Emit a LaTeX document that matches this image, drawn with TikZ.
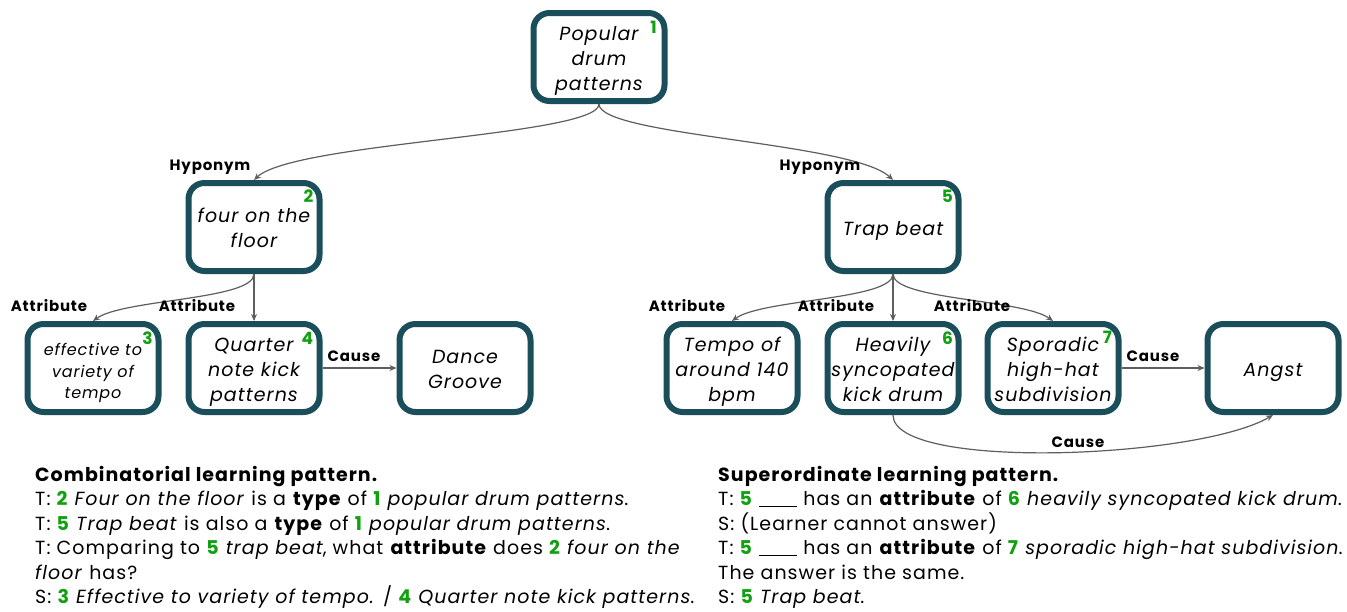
\documentclass[tikz,border=0pt]{standalone}
\usepackage{fontspec}
\setmainfont{Poppins}[LetterSpace=5.5]
\usetikzlibrary{arrows.meta}

\definecolor{boxteal}{HTML}{1A4E5B}
\definecolor{numgreen}{HTML}{10A010}
\definecolor{edgegray}{HTML}{5E5E5E}

\newcommand\cconceptfont{\fontsize{19}{25}\selectfont\itshape}
\newcommand\csmallconceptfont{\fontsize{16}{21.5}\selectfont\itshape}
\newcommand\cnumfont{\fontsize{17}{20}\selectfont\bfseries}
\newcommand\clabelfont{\fontsize{15}{18}\selectfont\bfseries}
\newcommand\cbodyfont{\fontsize{19}{24}\selectfont}
\newcommand\gn[1]{\textcolor{numgreen}{\textbf{#1}}}
\newcommand\blank{\rule[-1.5pt]{38pt}{1.2pt}}
% centred stack of lines, set a little below the box centre
\newcommand\lines[2][3pt]{\raisebox{-#1}[\height][\depth]{\begin{tabular}{c}#2\end{tabular}}}
\setlength\tabcolsep{0pt}

\tikzset{
  concept/.style={draw=boxteal, line width=6pt, rounded corners=16pt,
    minimum width=131pt, minimum height=88pt,
    font=\cconceptfont, inner sep=0pt, fill=white},
  num/.style={font=\cnumfont, text=numgreen, inner sep=0pt},
  rel/.style={draw=edgegray, line width=1.2pt,
    -{Stealth[length=7pt,width=6pt]}},
  rellabel/.style={font=\clabelfont, inner sep=0pt},
  textline/.style={anchor=base west, inner sep=0pt, font=\cbodyfont},
}

\begin{document}
\begin{tikzpicture}[x=1pt,y=-1pt]
\useasboundingbox[fill=white] (0,0) rectangle (1347,611);

% concept boxes
\node[concept] (popular)  at (599,57)  {\lines{Popular\\drum\\patterns}};
\node[concept] (four)     at (254,227) {\lines{four on the\\floor}};
\node[concept, font=\csmallconceptfont] (effective) at (93,368) {\lines[5pt]{effective to\\variety of\\tempo}};
\node[concept] (quarter)  at (254,368) {\lines{Quarter\\note kick\\patterns}};
\node[concept] (dance)    at (465,368) {\lines{Dance\\Groove}};
\node[concept] (trap)     at (893,227) {\lines{Trap beat}};
\node[concept] (tempo)    at (732,368) {\lines{Tempo of\\around 140\\bpm}};
\node[concept] (heavily)  at (893,368) {\lines{Heavily\\syncopated\\kick drum}};
\node[concept] (sporadic) at (1053,368) {\lines{Sporadic\\high-hat\\subdivision}};
\node[concept] (angst)    at (1273,368) {\lines{Angst}};

% index numbers
\node[num] (n1) at ([shift={(-14,17)}]popular.north east) {1};
\node[num] (n2) at ([shift={(-14,16)}]four.north east) {2};
\node[num] (n3) at ([shift={(-14,17)}]effective.north east) {3};
\node[num] (n4) at ([shift={(-15,17)}]quarter.north east) {4};
\node[num] (n5) at ([shift={(-14,16)}]trap.north east) {5};
\node[num] (n6) at ([shift={(-14,17)}]heavily.north east) {6};
\node[num] (n7) at ([shift={(-14,16)}]sporadic.north east) {7};

% relations
\draw[rel] (popular.south) .. controls +(0,32) and +(40,-38) .. (four.north);
\draw[rel] (popular.south) .. controls +(0,32) and +(-40,-38) .. (trap.north);
\draw[rel] (four.south) .. controls +(0,26) and +(30,-22) .. (effective.north);
\draw[rel] (four.south) -- (quarter.north);
\draw[rel] (quarter.east) -- (dance.west);
\draw[rel] (trap.south) .. controls +(0,26) and +(30,-22) .. (tempo.north);
\draw[rel] (trap.south) -- (heavily.north);
\draw[rel] (trap.south) .. controls +(0,26) and +(-30,-22) .. (sporadic.north);
\draw[rel] (sporadic.east) -- (angst.west);
\draw[rel] (heavily.south) .. controls +(0,56) and +(-75,44) .. (angst.south);

% relation labels
\node[rellabel] (lh1) at (210,167) {Hyponym};
\node[rellabel] (lh2) at (820,167) {Hyponym};
\node[rellabel] (la1) at (49,306)  {Attribute};
\node[rellabel] (la2) at (197,306) {Attribute};
\node[rellabel] (la3) at (687,306) {Attribute};
\node[rellabel] (la4) at (836,306) {Attribute};
\node[rellabel] (la5) at (972,306) {Attribute};
\node[rellabel] (lc1) at (354,356) {Cause};
\node[rellabel] (lc2) at (1153,356) {Cause};
\node[rellabel] (lc3) at (1078,442) {Cause};

% combinatorial learning pattern
\node[textline] (l1) at (35,481)   {\textbf{Combinatorial learning pattern.}};
\node[textline] (l2) at (35,505.5) {T: \gn{2} \textit{Four on the floor} is a \textbf{type} of \gn{1} \textit{popular drum patterns}.};
\node[textline] (l3) at (35,530)   {T: \gn{5} \textit{Trap beat} is also a \textbf{type} of \gn{1} \textit{popular drum patterns}.};
\node[textline] (l4) at (35,554.5) {T: Comparing to \gn{5} \textit{trap beat}, what \textbf{attribute} does \gn{2} \textit{four on the}};
\node[textline] (l5) at (35,579)   {\textit{floor} has?};
\node[textline] (l6) at (35,603.5) {S: \gn{3} \textit{Effective to variety of tempo.} / \gn{4} \textit{Quarter note kick patterns}.};

% superordinate learning pattern
\node[textline] (r1) at (718,481)   {\textbf{Superordinate learning pattern.}};
\node[textline] (r2) at (718,505.5) {T: \gn{5} \blank{} has an \textbf{attribute} of \gn{6} \textit{heavily syncopated kick drum}.};
\node[textline] (r3) at (718,530)   {S: (Learner cannot answer)};
\node[textline] (r4) at (718,554.5) {T: \gn{5} \blank{} has an \textbf{attribute} of \gn{7} \textit{sporadic high-hat subdivision}.};
\node[textline] (r5) at (718,579)   {The answer is the same.};
\node[textline] (r6) at (718,603.5) {S: \gn{5} \textit{Trap beat}.};
\end{tikzpicture}
\end{document}
